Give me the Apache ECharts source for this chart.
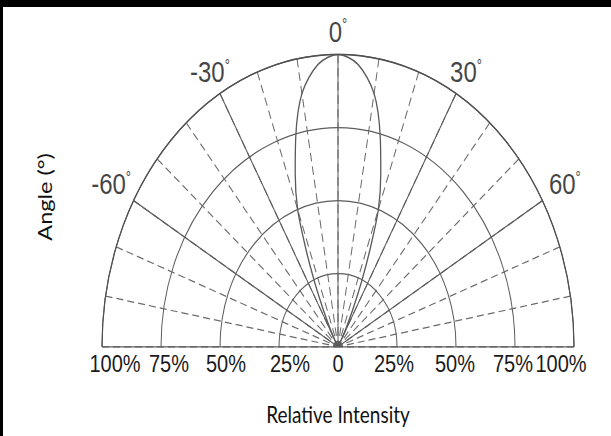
<!DOCTYPE html>
<html>
<head>
<meta charset="utf-8">
<script src="https://cdn.jsdelivr.net/npm/echarts@6.0.0/dist/echarts.min.js"></script>
<style>
html, body { margin: 0; padding: 0; background: #fff; overflow: hidden; }
#wrap { width: 611px; height: 436px; overflow: hidden; position: relative; }
#chart { width: 611px; height: 352px; transform: scaleY(1.2386); transform-origin: 0 0; }
</style>
</head>
<body>
<div id="wrap"><div id="chart"></div></div>
<script>
// ---- data ----
const lobeAngles    = [-40, -35, -30, -28, -26, -24, -22, -20, -17, -14, -10, -5, 0, 5, 10, 14, 17, 20, 22, 24, 26, 28, 30, 35, 40];
const lobeIntensity = [0, 1, 4, 8, 15, 25, 37, 50, 62, 74, 88, 97, 100, 97, 88, 74, 62, 50, 37, 25, 15, 8, 4, 1, 0];

const angleTickValues = [-60, -30, 0, 30, 60];
const angleTickLabels = ['-60', '-30', '0', '30', '60'];

const intensityTickValues = [-100, -75, -50, -25, 0, 25, 50, 75, 100];
const intensityTickLabels = ['100%', '75%', '50%', '25%', '0', '25%', '50%', '75%', '100%'];

const xAxisTitle = 'Relative Intensity';
const yAxisTitle = 'Angle (°)';

// ---- styling / layout ----
const CX = 338, CY = 280, R = 236;
const labelRadius = [111, 108.5, 107.8, 108.5, 111];   // where each angle label sits (% of radius)
const labelShift = [13, 8, 6, 11, 0, -3, -1, -2, -13];
const solidColor = '#5c5c5c', dashColor = '#6a6a6a';

const rich = { d: { fontSize: 13, verticalAlign: 'top', fontFamily: 'Liberation Sans', color: '#111', lineHeight: 24 } };
const xRich = {};
labelShift.forEach((s, i) => {
  xRich['s' + i] = {
    fontSize: 20, fontFamily: 'Liberation Sans', color: '#1a1a1a',
    padding: s >= 0 ? [0, 0, 0, 2 * s] : [0, -2 * s, 0, 0]
  };
});

const chart = echarts.init(document.getElementById('chart'), null, { renderer: 'svg' });
chart.setOption({
  backgroundColor: '#fff',
  animation: false,
  graphic: [
    { type: 'rect', left: 0, top: 0, shape: { width: 611, height: 5.7 }, style: { fill: '#000' }, silent: true },
    { type: 'rect', left: 0, top: 0, shape: { width: 3, height: 352 }, style: { fill: '#000' }, silent: true }
  ],
  polar: [
    { center: [CX, CY], radius: R },
    { center: [CX, CY], radius: R }
  ],
  angleAxis: [
    {
      polarIndex: 0, type: 'value', min: -90, max: 90, interval: 10,
      startAngle: 180, endAngle: 0, clockwise: true,
      axisLine: { show: false }, axisTick: { show: false }, axisLabel: { show: false },
      splitLine: { show: true, lineStyle: { color: dashColor, width: 1, type: [7, 4] } }
    },
    {
      polarIndex: 1, type: 'value', min: -90, max: 90, interval: 30,
      startAngle: 180, endAngle: 0, clockwise: true,
      axisLine: { show: true, lineStyle: { color: '#505050', width: 1.2 } },
      axisTick: { show: false }, axisLabel: { show: false },
      splitLine: { show: true, lineStyle: { color: solidColor, width: 1 } }
    }
  ],
  radiusAxis: [
    {
      polarIndex: 0, type: 'value', min: 0, max: 100, interval: 25,
      axisLine: { show: false }, axisTick: { show: false }, axisLabel: { show: false },
      splitLine: { show: true, lineStyle: { color: solidColor, width: 1 } }
    },
    {
      polarIndex: 1, type: 'value', min: 0, max: 100, interval: 25, show: false,
      splitLine: { show: false }
    }
  ],
  grid: { left: 102, right: 37, top: 38, bottom: 72 },
  xAxis: {
    type: 'value', min: -100, max: 100, interval: 25,
    axisLine: { show: false }, axisTick: { show: false }, splitLine: { show: false },
    axisLabel: {
      margin: 4,
      formatter: function (v) {
        const i = intensityTickValues.indexOf(v);
        return i < 0 ? '' : '{s' + i + '|' + intensityTickLabels[i] + '}';
      },
      rich: xRich
    },
    name: xAxisTitle, nameLocation: 'middle', nameGap: 45,
    nameTextStyle: { fontFamily: 'Lato', fontSize: 19, color: '#111' }
  },
  yAxis: {
    type: 'value', min: 0, max: 100,
    axisLine: { show: false }, axisTick: { show: false }, splitLine: { show: false },
    axisLabel: { show: false },
    name: yAxisTitle, nameLocation: 'middle', nameRotate: 90, nameGap: 48,
    nameTextStyle: { fontFamily: 'Lato', fontSize: 19, color: '#111' }
  },
  series: [
    {
      type: 'line', coordinateSystem: 'polar', polarIndex: 0,
      data: lobeAngles.map((a, i) => [lobeIntensity[i], a]),
      symbol: 'none', smooth: 0.3, clip: false, silent: true,
      lineStyle: { color: '#5a5a5a', width: 1.3 }
    },
    {
      type: 'scatter', coordinateSystem: 'polar', polarIndex: 0,
      data: angleTickValues.map((a, i) => [labelRadius[i], a]),
      symbolSize: 0, clip: false, silent: true,
      label: {
        show: true, position: 'inside',
        fontFamily: 'Liberation Sans', fontSize: 24, color: '#111', lineHeight: 24,
        formatter: p => angleTickLabels[p.dataIndex] + '{d|°}',
        rich: rich
      }
    }
  ]
});
</script>
</body>
</html>
